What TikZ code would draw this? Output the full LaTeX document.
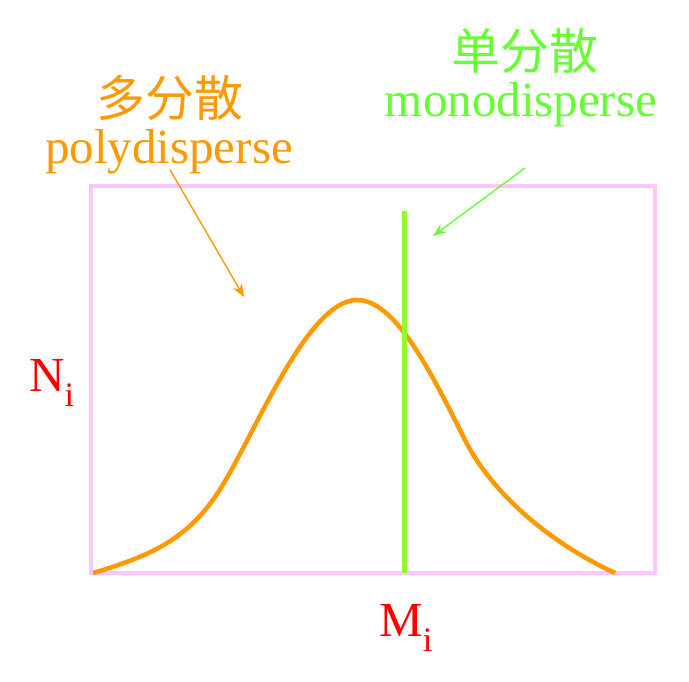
\documentclass[tikz,border=0pt]{standalone}
\usepackage{fontspec}
\setmainfont{Liberation Serif}
\newfontfamily\cjk{Noto Sans CJK SC}
\usetikzlibrary{arrows.meta}
\definecolor{framepink}{RGB}{250,200,250}
\definecolor{polyorange}{RGB}{255,153,0}
\definecolor{monogreen}{RGB}{102,255,51}
\definecolor{linegreen}{RGB}{150,250,40}
\definecolor{labelred}{RGB}{255,0,0}
\tikzset{
  bigtext/.style={font=\fontsize{49}{52}\selectfont, inner sep=0pt},
  pointer/.style={line width=1.4pt, -{Stealth[length=13pt, width=10pt]}}
}

\begin{document}
\begin{tikzpicture}[x=1pt, y=-1pt]
\useasboundingbox (0,0) rectangle (689,682);

% frame
\draw[framepink, line width=4pt] (91,186) rectangle (655,573);

% polydisperse curve
\draw[polyorange, line width=4.5pt]
  (93,573) .. controls (150,556) and (185,540) .. (215,497)
           .. controls (250,447) and (305,300) .. (357,300)
           .. controls (395,300) and (430,370) .. (465,440)
           .. controls (488,486) and (540,538) .. (615,573);

% monodisperse line
\draw[linegreen, line width=4.5pt] (404.5,211) -- (404.5,573);

% labels
\node[bigtext, text=polyorange] (polyzh) at (170,98) {\cjk 多分散};
\node[bigtext, text=polyorange, anchor=base] (poly) at (169,164) {polydisperse};
\node[bigtext, text=monogreen] (monozh) at (525,51) {\cjk 单分散};
\node[bigtext, text=monogreen, anchor=base] (mono) at (521,117) {monodisperse};
\node[bigtext, text=labelred] (Ni) at (52,383) {N\textsubscript{i}};
\node[bigtext, text=labelred] (Mi) at (406,628) {M\textsubscript{i}};

% arrows
\coordinate (polytip) at (244,297);
\coordinate (monostart) at (525,168);
\coordinate (monotip) at (433,236);
\draw[pointer, polyorange] ([shift={(1,-5)}]poly.south) -- (polytip);
\draw[pointer, monogreen] (monostart) -- (monotip);

\end{tikzpicture}
\end{document}
